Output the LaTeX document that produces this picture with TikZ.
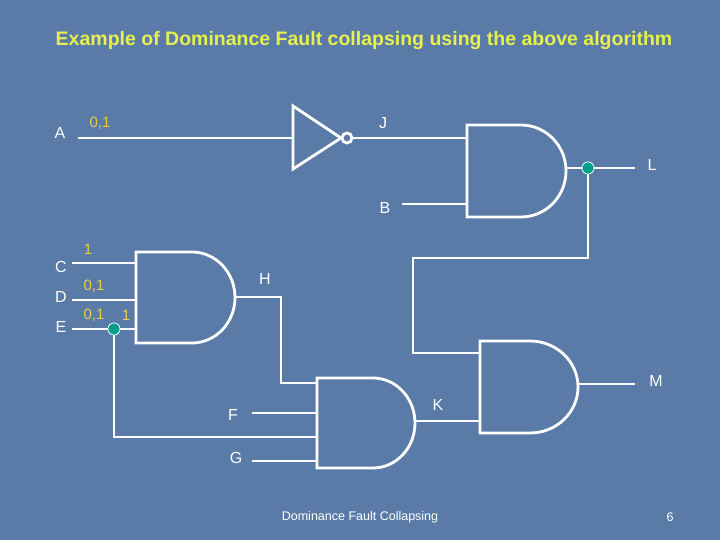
\documentclass[tikz,border=0pt]{standalone}
\usepackage{fontspec}
\setmainfont{Liberation Sans}
\begin{document}
\begin{tikzpicture}[x=1pt,y=-1pt,
  wire/.style={draw=white,line width=2.8pt},
  gate/.style={draw=white,line width=2.8pt},
  lbl/.style={text=white,font=\fontsize{16}{18}\selectfont,inner sep=0pt},
  val/.style={text=valc,font=\fontsize{15}{18}\selectfont,inner sep=0pt},
  dotn/.style={circle,fill=dotc,draw=white,line width=0.6pt,inner sep=0pt,minimum size=12pt}]
\definecolor{bg}{HTML}{5A7BA8}
\definecolor{valc}{HTML}{E8D040}
\definecolor{titc}{HTML}{E8F050}
\definecolor{dotc}{HTML}{009E8C}
\fill[bg] (0,0) rectangle (720,540);
\useasboundingbox (0,0) rectangle (720,540);
\node[text=titc,font=\bfseries\fontsize{19.5}{22}\selectfont] (title) at (364,41) {Example of Dominance Fault collapsing using the above algorithm};
% gates
\draw[gate] (521,125) -- (467,125) -- (467,217) -- (521,217) arc[start angle=-90,end angle=90,x radius=45pt,y radius=46pt] -- cycle;
\draw[gate] (192,252) -- (136,252) -- (136,343) -- (192,343) arc[start angle=-90,end angle=90,x radius=43pt,y radius=45.5pt] -- cycle;
\draw[gate] (373,378) -- (317,378) -- (317,468) -- (373,468) arc[start angle=-90,end angle=90,x radius=42pt,y radius=45pt] -- cycle;
\draw[gate] (530,341) -- (480,341) -- (480,433) -- (530,433) arc[start angle=-90,end angle=90,x radius=48pt,y radius=46pt] -- cycle;
% inverter
\draw[gate] (293,106) -- (293,169) -- (341,138) -- cycle;
\node[circle,draw=white,line width=2.8pt,minimum size=10pt,inner sep=0pt] (bub) at (347,138) {};
% labels
\node[lbl] (A) at (60,133) {A};
\node[lbl] (J) at (383,123) {J};
\node[lbl] (B) at (385,208) {B};
\node[lbl] (L) at (652,165) {L};
\node[lbl] (C) at (61,267) {C};
\node[lbl] (D) at (61,297) {D};
\node[lbl] (E) at (61,327) {E};
\node[lbl] (H) at (265,279) {H};
\node[lbl] (M) at (656,381) {M};
\node[lbl] (K) at (438,405) {K};
\node[lbl] (F) at (233,415) {F};
\node[lbl] (G) at (236,458) {G};
\node[val] (v1) at (100,123) {0,1};
\node[val] (v2) at (88,249) {1};
\node[val] (v3) at (94,286) {0,1};
\node[val] (v4) at (94,315) {0,1};
\node[val] (v5) at (126,315) {1};
\node[text=white,font=\fontsize{12.5}{14}\selectfont] (foot) at (360,517) {Dominance Fault Collapsing};
\node[text=white,font=\fontsize{12.5}{14}\selectfont] (pg) at (670,517) {6};
% wires
\coordinate (a0) at (78,138);
\draw[wire] (a0) -- (293,138);
\draw[wire] (bub.east) -- (467,138);
\coordinate (b0) at (402,204);
\draw[wire] (b0) -- (467,204);
\node[dotn] (dL) at (588,168) {};
\coordinate (l1) at (635,168);
\draw[wire] (566,168) -- (dL) -- (l1);
\draw[wire] (dL) -- (588,258) -- (413,258) -- (413,353) -- (480,353);
\draw[wire] (72,263) -- (136,263);
\draw[wire] (72,300) -- (136,300);
\node[dotn] (dE) at (114,329) {};
\draw[wire] (72,329) -- (dE) -- (136,329);
\draw[wire] (235,297) -- (281,297) -- (281,383) -- (317,383);
\draw[wire] (252,413) -- (317,413);
\draw[wire] (dE) -- (114,437) -- (317,437);
\draw[wire] (252,461) -- (317,461);
\draw[wire] (415,421) -- (480,421);
\draw[wire] (578,384) -- (635,384);
\node[dotn] at (dL) {};
\node[dotn] at (dE) {};
\end{tikzpicture}
\end{document}
